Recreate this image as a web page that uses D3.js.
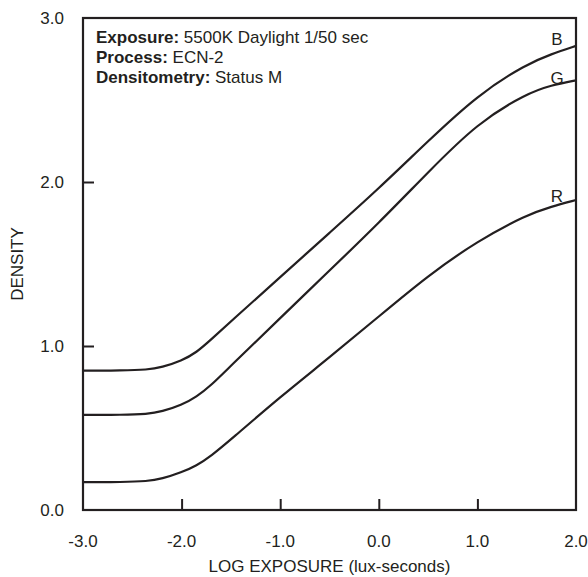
<!DOCTYPE html>
<html>
<head>
<meta charset="utf-8">
<script src="https://cdn.jsdelivr.net/npm/d3@7"></script>
<style>
  body { margin: 0; background: #fff; }
  svg text { font-family: "Liberation Sans", Arial, Helvetica, sans-serif; fill: #231f20; }
</style>
</head>
<body>
<svg id="chart"></svg>
<script>
// Log exposure points the curves were read at
const logE = [-3.0, -2.6, -2.35, -2.2, -2.0, -1.85, -1.7, -1.5, -1.0, -0.5, 0.0, 0.5, 1.0, 1.5, 1.75, 2.0];

// Density values per layer
const blue  = [0.85, 0.85, 0.855, 0.87, 0.91, 0.96, 1.04, 1.15, 1.42, 1.69, 1.96, 2.25, 2.53, 2.72, 2.78, 2.83];
const green = [0.58, 0.58, 0.585, 0.60, 0.64, 0.69, 0.76, 0.88, 1.17, 1.46, 1.75, 2.06, 2.36, 2.54, 2.59, 2.62];
const red   = [0.17, 0.17, 0.175, 0.19, 0.23, 0.27, 0.33, 0.43, 0.69, 0.93, 1.18, 1.43, 1.64, 1.80, 1.85, 1.89];

const seriesNames = ["B", "G", "R"];
const seriesValues = [blue, green, red];

const xTicks = [-3, -2, -1, 0, 1, 2];
const yTicks = [0, 1, 2, 3];

const infoLines = [
    { label: "Exposure:", text: " 5500K Daylight 1/50 sec" },
    { label: "Process:", text: " ECN-2" },
    { label: "Densitometry:", text: " Status M" }
];

const width = 588;
const height = 577;
const margin = { top: 18, right: 12, bottom: 67, left: 83 };
const ink = "#231f20";
const fmt = d => d3.format(".1f")(d).replace("\u2212", "-");

const svg = d3.select("#chart")
    .attr("width", width)
    .attr("height", height);

const x = d3.scaleLinear().domain([-3, 2]).range([margin.left, width - margin.right]);
const y = d3.scaleLinear().domain([0, 3]).range([height - margin.bottom, margin.top]);

// Inner ticks (bottom + left), labels drawn separately
const xAxis = d3.axisTop(x).tickValues(xTicks.slice(1, -1)).tickSize(11).tickFormat("");
svg.append("g")
    .attr("transform", `translate(0,${y(0)})`)
    .call(xAxis)
    .call(g => g.select(".domain").remove())
    .selectAll("line").attr("stroke", ink).attr("stroke-width", 2);

const yAxis = d3.axisRight(y).tickValues(yTicks.slice(1, -1)).tickSize(11).tickFormat("");
svg.append("g")
    .attr("transform", `translate(${x(-3)},0)`)
    .call(yAxis)
    .call(g => g.select(".domain").remove())
    .selectAll("line").attr("stroke", ink).attr("stroke-width", 2);

// Tick labels
svg.append("g").selectAll("text")
    .data(xTicks)
    .join("text")
    .attr("x", d => x(d))
    .attr("y", y(0) + 37)
    .attr("text-anchor", "middle")
    .attr("font-size", 17)
    .text(fmt);

svg.append("g").selectAll("text")
    .data(yTicks)
    .join("text")
    .attr("x", x(-3) - 19)
    .attr("y", d => y(d) + 6)
    .attr("text-anchor", "end")
    .attr("font-size", 17)
    .text(fmt);

// Axis titles
svg.append("text")
    .attr("x", (x(-3) + x(2)) / 2)
    .attr("y", height - 5)
    .attr("text-anchor", "middle")
    .attr("font-size", 17)
    .text("LOG EXPOSURE (lux-seconds)");

svg.append("text")
    .attr("transform", `translate(23,${(y(0) + y(3)) / 2}) rotate(-90)`)
    .attr("text-anchor", "middle")
    .attr("font-size", 17)
    .text("DENSITY");

// Curves (basis spline smooths the toe like the original)
const line = d3.line()
    .x((d, i) => x(logE[i]))
    .y(d => y(d))
    .curve(d3.curveBasis);

svg.append("g").selectAll("path")
    .data(seriesValues)
    .join("path")
    .attr("d", line)
    .attr("fill", "none")
    .attr("stroke", ink)
    .attr("stroke-width", 2.2);

// Curve labels near right end (nudged as in the original)
const labelNudge = [-9, -1, -5];
svg.append("g").selectAll("text")
    .data(seriesNames)
    .join("text")
    .attr("x", x(2) - 19)
    .attr("y", (d, i) => y(seriesValues[i][seriesValues[i].length - 2]) + labelNudge[i])
    .attr("text-anchor", "middle")
    .attr("font-size", 17)
    .text(d => d);

// Frame
svg.append("rect")
    .attr("x", x(-3))
    .attr("y", y(3))
    .attr("width", x(2) - x(-3))
    .attr("height", y(0) - y(3))
    .attr("fill", "none")
    .attr("stroke", ink)
    .attr("stroke-width", 2.2);

// Info block
const info = svg.append("g").selectAll("text")
    .data(infoLines)
    .join("text")
    .attr("x", x(-3) + 13)
    .attr("y", (d, i) => 43 + i * 20)
    .attr("font-size", 17);
info.append("tspan").attr("font-weight", "bold").text(d => d.label);
info.append("tspan").text(d => d.text);
</script>
</body>
</html>
